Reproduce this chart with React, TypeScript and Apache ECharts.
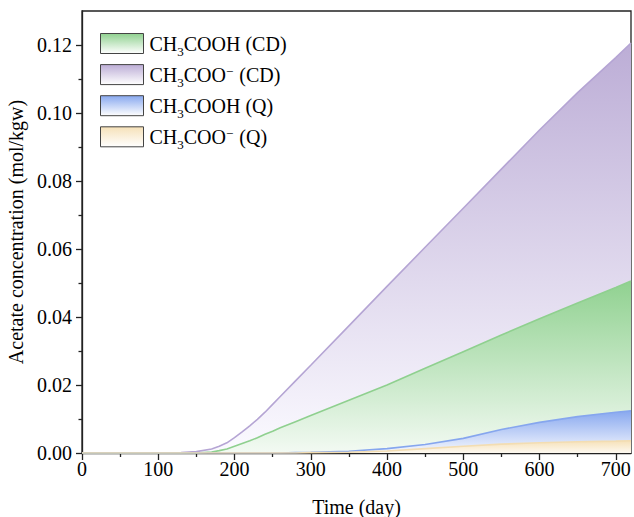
import React, { useEffect, useRef } from "react";
import * as echarts from "echarts";

const days = [0, 100, 130, 150, 170, 180, 190, 200, 210, 220, 230, 240, 250, 260, 280, 300, 350, 400, 450, 500, 550, 600, 650, 700, 720];
const acetateCD = [0, 0, 0.0001, 0.0004, 0.0012, 0.002, 0.003, 0.0045, 0.0062, 0.008, 0.0099, 0.012, 0.0143, 0.0166, 0.0212, 0.0258, 0.0374, 0.049, 0.0605, 0.072, 0.0835, 0.095, 0.106, 0.1163, 0.1206];
const aceticCD = [0, 0, 0, 0, 0.0003, 0.0007, 0.0012, 0.002, 0.0028, 0.0036, 0.0045, 0.0055, 0.0064, 0.0074, 0.0092, 0.011, 0.0155, 0.02, 0.0249, 0.0298, 0.0347, 0.0395, 0.0441, 0.0487, 0.0506];
const aceticQ = [0, 0, 0, 0, 0, 0, 0, 0, 0, 0, 0, 0, 0, 0, 0.0001, 0.0002, 0.0005, 0.0013, 0.0025, 0.0043, 0.0069, 0.009, 0.0107, 0.012, 0.0124];
const acetateQ = [0, 0, 0, 0, 0, 0, 0, 0, 0, 0, 0, 0, 0, 0, 0, 0.0001, 0.0002, 0.0006, 0.0013, 0.002, 0.0026, 0.003, 0.0033, 0.0035, 0.0036];

const seriesNames = ["CH3COOH (CD)", "CH3COO- (CD)", "CH3COOH (Q)", "CH3COO- (Q)"];
const xMajorTicks = [0, 100, 200, 300, 400, 500, 600, 700];
const xMinorTicks = [50, 150, 250, 350, 450, 550, 650];
const yMajorTicks = [0, 0.02, 0.04, 0.06, 0.08, 0.1, 0.12];
const yMinorTicks = [0.01, 0.03, 0.05, 0.07, 0.09, 0.11];

const FONT = "'Liberation Serif', 'Times New Roman', serif";

const grad = (top: string, bottom: string) =>
  new echarts.graphic.LinearGradient(0, 0, 0, 1, [
    { offset: 0, color: top },
    { offset: 1, color: bottom },
  ]);

const styles: Record<string, { line: string; top: string; bottom: string }> = {
  "CH3COOH (CD)": { line: "#8fd08f", top: "#90d190", bottom: "#f3faf3" },
  "CH3COO- (CD)": { line: "#b5a5d4", top: "#bcadd6", bottom: "#fbfaff" },
  "CH3COOH (Q)": { line: "#86a6ee", top: "#88a8ef", bottom: "#f6f8fe" },
  "CH3COO- (Q)": { line: "#f3ddb2", top: "#f6e1b8", bottom: "#fdf9f1" },
};

const richName = (name: string) => {
  const ion = name.includes("-");
  const tail = name.split(" ")[1];
  if (ion) return `{n|CH}{s|3}{n|COO}{p|−}{n| ${tail}}`;
  return `{n|CH}{s|3}{n|COOH ${tail}}`;
};

export default function App() {
  const ref = useRef<HTMLDivElement>(null);
  useEffect(() => {
    if (!ref.current) return;
    const chart = echarts.init(ref.current, null, { renderer: "svg" });
    const dataFor: Record<string, number[]> = {
      "CH3COOH (CD)": aceticCD,
      "CH3COO- (CD)": acetateCD,
      "CH3COOH (Q)": aceticQ,
      "CH3COO- (Q)": acetateQ,
    };
    const drawOrder = ["CH3COO- (CD)", "CH3COOH (CD)", "CH3COOH (Q)", "CH3COO- (Q)"];
    const axisLine = { show: true, lineStyle: { color: "#222", width: 1.3 } };
    chart.setOption({
      animation: false,
      backgroundColor: "#fff",
      grid: {
        left: 82,
        right: 3,
        top: 11,
        bottom: 64,
        show: true,
        borderColor: "#222",
        borderWidth: 1.3,
        containLabel: false,
        outerBoundsMode: "none",
      },
      legend: {
        orient: "vertical",
        left: 95,
        top: 24,
        icon: "rect",
        itemWidth: 43,
        itemHeight: 20,
        itemGap: 2.1,
        data: seriesNames.map((n) => ({
          name: n,
          itemStyle: { color: grad(styles[n].top, "#ffffff"), borderColor: "#444", borderWidth: 1 },
        })),
        formatter: (name: string) => richName(name),
        textStyle: {
          padding: [0, 0, 0, 1],
          rich: {
            n: { fontFamily: FONT, fontSize: 20, lineHeight: 20, color: "#000" },
            s: { fontFamily: FONT, fontSize: 13, lineHeight: 13, padding: [16, 0, 0, 0], color: "#000" },
            p: { fontFamily: FONT, fontSize: 13, lineHeight: 13, padding: [0, 1, 7, 0], color: "#000" },
          },
        },
      },
      xAxis: [
        {
          type: "value",
          min: 0,
          max: 720,
          name: "Time (day)",
          nameLocation: "middle",
          nameGap: 44,
          nameTextStyle: { fontFamily: FONT, fontSize: 20, color: "#000" },
          axisLine,
          axisTick: { show: true, length: 7, customValues: xMajorTicks, lineStyle: { color: "#222", width: 1.3 } },
          axisLabel: { customValues: xMajorTicks, fontFamily: FONT, fontSize: 20, color: "#000", margin: 6 },
          splitLine: { show: false },
        },
        {
          type: "value",
          min: 0,
          max: 720,
          position: "bottom",
          axisLine: { show: false },
          axisTick: { show: true, length: 4, customValues: xMinorTicks, lineStyle: { color: "#222", width: 1.3 } },
          axisLabel: { show: false },
          splitLine: { show: false },
        },
      ],
      yAxis: [
        {
          type: "value",
          min: 0,
          max: 0.13,
          name: "Acetate concentration (mol/kgw)",
          nameLocation: "middle",
          nameGap: 51,
          nameTextStyle: { fontFamily: FONT, fontSize: 20, color: "#000" },
          axisLine,
          axisTick: { show: true, length: 6, customValues: yMajorTicks, lineStyle: { color: "#222", width: 1.3 } },
          axisLabel: {
            customValues: yMajorTicks,
            fontFamily: FONT,
            fontSize: 20,
            color: "#000",
            margin: 10,
            formatter: (v: number) => v.toFixed(2),
          },
          splitLine: { show: false },
        },
        {
          type: "value",
          min: 0,
          max: 0.13,
          position: "left",
          axisLine: { show: false },
          axisTick: { show: true, length: 3.5, customValues: yMinorTicks, lineStyle: { color: "#222", width: 1.3 } },
          axisLabel: { show: false },
          splitLine: { show: false },
        },
      ],
      series: drawOrder.map((n) => ({
        name: n,
        type: "line",
        xAxisIndex: 0,
        yAxisIndex: 0,
        showSymbol: false,
        symbol: "none",
        smooth: false,
        data: days.map((d, i) => [d, dataFor[n][i]]),
        lineStyle: { color: styles[n].line, width: 1.6 },
        itemStyle: { color: styles[n].line },
        areaStyle: { color: grad(styles[n].top, styles[n].bottom), opacity: 1, origin: "start" },
      })),
    });
    return () => chart.dispose();
  }, []);
  return <div ref={ref} style={{ position: "fixed", left: 0, top: 0, width: 634, height: 517 }} />;
}
